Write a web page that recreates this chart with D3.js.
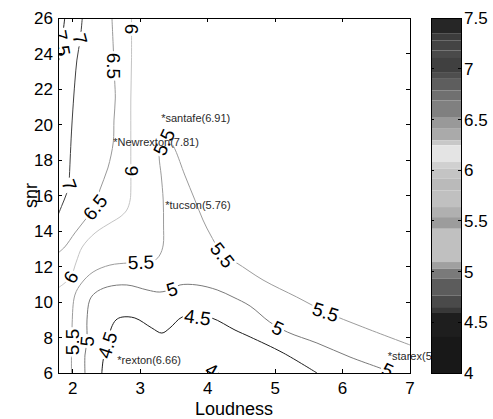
<!DOCTYPE html>
<html><head><meta charset="utf-8">
<script src="https://cdn.jsdelivr.net/npm/d3@7"></script>
<style>
body{margin:0;background:#fff}
svg{display:block}
text{font-family:"Liberation Sans",Arial,Helvetica,sans-serif}
</style>
</head><body>
<svg id="chart" width="493" height="419"></svg>
<script>
// ---------------- data ----------------
const xTicks = [2, 3, 4, 5, 6, 7];
const yTicks = [6, 8, 10, 12, 14, 16, 18, 20, 22, 24, 26];
const xLabel = "Loudness";
const yLabel = "snr";

// contour lines: [loudness, snr]
const contour75 = [[1.88,26],[1.85,25.04],[1.82,24.20],[1.80,23.75],[1.78,23.52]];
const contour7 = [[2.14,26],[2.11,24.82],[2.06,23.63],[2.03,22.39],[2.00,20.82],[1.98,19.58],[1.96,18.00],[1.95,17.15],[1.94,16.54],[1.90,16.03],[1.84,15.46],[1.78,14.90]];
const contour65 = [[2.58,26],[2.60,24.31],[2.62,22.51],[2.63,21.49],[2.61,20.25],[2.60,19.01],[2.52,17.55],[2.40,16.31],[2.33,15.35],[2.18,14.62],[2.03,13.89],[1.88,13.10],[1.78,12.76]];
const contour6 = [[2.87,26],[2.87,23.63],[2.86,21.38],[2.86,19.13],[2.86,17.38],[2.86,16.31],[2.85,15.75],[2.80,15.18],[2.70,14.79],[2.58,14.51],[2.33,13.89],[2.14,13.10],[2.05,12.25],[1.97,11.41],[1.87,11.04],[1.78,10.79]];
const contour55 = [[1.98,6.00],[1.98,7.01],[1.99,7.75],[1.99,8.82],[2.03,10.39],[2.13,11.07],[2.30,11.69],[2.55,12.08],[2.82,12.20],[3.01,12.25],[3.22,12.37],[3.29,12.65],[3.34,13.21],[3.345,14.34],[3.34,15.75],[3.31,17.15],[3.28,18.17],[3.29,18.73],[3.38,19.24],[3.47,18.90],[3.52,18.56],[3.66,17.15],[3.81,15.75],[3.93,14.62],[4.05,13.72],[4.24,12.59],[4.43,12.20],[4.82,11.24],[5.32,10.28],[5.75,9.44],[6.30,8.59],[7.00,7.58]];
const contour5 = [[2.18,6.00],[2.18,7.01],[2.21,7.80],[2.21,8.99],[2.25,10.11],[2.33,10.51],[2.51,10.85],[2.80,10.96],[3.10,10.68],[3.29,10.56],[3.47,10.73],[3.59,10.96],[3.84,10.96],[4.14,10.68],[4.375,10.28],[4.63,9.77],[4.92,8.87],[5.18,8.31],[5.62,7.69],[6.11,6.90],[6.555,6.28],[6.75,6.00]];
const contour45 = [[2.43,6.00],[2.45,6.73],[2.51,7.58],[2.57,8.54],[2.64,8.99],[2.73,9.15],[2.92,9.10],[3.17,8.54],[3.32,8.25],[3.44,8.54],[3.62,9.15],[3.84,9.21],[4.06,9.10],[4.405,8.42],[4.63,8.03],[5.12,7.13],[5.62,6.00]];
const contour4 = [[3.95,6.00],[4.02,6.23],[4.10,6.23],[4.16,6.00]];
const contourLevels = [7.5, 7, 6.5, 6, 5.5, 5, 4.5, 4];

// inline contour labels
const labelLevel   = [7.5, 7, 7, 6.5, 6.5, 6, 6, 6, 5.5, 5.5, 5.5, 5.5, 5.5, 5, 5, 5, 5, 4.5, 4.5, 4];
const labelLoudness= [1.84, 2.11, 1.95, 2.61, 2.33, 2.87, 2.86, 1.97, 1.99, 3.01, 3.35, 4.22, 5.75, 2.21, 3.47, 5.04, 6.67, 2.51, 3.85, 4.06];
const labelSnr     = [24.59, 24.82, 16.6, 23.30, 15.35, 25.38, 17.38, 11.41, 7.75, 12.25, 19.01, 12.65, 9.44, 7.80, 10.73, 8.54, 6.17, 7.58, 9.15, 6.17];

// site annotations
const siteNames    = ["santafe", "Newrexton", "tucson", "rexton", "starex"];
const siteScores   = ["6.91", "7.81", "5.76", "6.66", "5.28"];
const siteLoudness = [3.31, 2.60, 3.37, 2.66, 6.67];
const siteSnr      = [20.37, 19.01, 15.46, 6.73, 6.96];

// colorbar (colormap bands, lower bound of each band from the top)
const cbTop = 7.5;
const cbBottom = 4;
const cbBandLower  = [7.345, 7.28, 7.18, 7.115, 6.967, 6.90, 6.787, 6.688, 6.524, 6.408, 6.294, 6.245, 6.08, 6.014, 5.915, 5.80, 5.636, 5.537, 5.422, 5.094, 5.028, 4.929, 4.765, 4.65, 4.60, 4.355, 4.0];
const cbBandColors = ["#262626","#3c3c3c","#444444","#4a4a4a","#404040","#4e4e4e","#5e5e5e","#707070","#808080","#999999","#aaaaaa","#c8c8c8","#e4e4e4","#d0d0d0","#c4c4c4","#bababa","#c0c0c0","#b0b0b0","#9c9c9c","#c0c0c0","#a0a0a0","#7a7a7a","#5c5c5c","#4a4a4a","#383838","#1e1e1e","#181818"];
const cbTickValues = [4, 4.5, 5, 5.5, 6, 6.5, 7, 7.5];
const cbTickLabels = ["4", "4.5", "5", "5.5", "6", "6.5", "7", "7.5"];

// ---------------- drawing ----------------
const contourData = [contour75, contour7, contour65, contour6, contour55, contour5, contour45, contour4];
const svg = d3.select("#chart");
const L = 58, R = 410, T = 18, B = 373;
const x = d3.scaleLinear().domain([1.78, 7]).range([L, R]);
const y = d3.scaleLinear().domain([6, 26]).range([B, T]);
const cb = d3.scaleLinear().domain([cbBottom, cbTop]).range([B, T]);
const cbL = 431, cbR = 461;

function levelColor(v) {
  for (let i = 0; i < cbBandLower.length; i++) if (v >= cbBandLower[i]) return cbBandColors[i];
  return cbBandColors[cbBandColors.length - 1];
}

svg.append("rect").attr("width", 493).attr("height", 419).attr("fill", "#fff");
svg.append("defs").append("clipPath").attr("id", "plotclip")
  .append("rect").attr("x", L).attr("y", T).attr("width", R - L).attr("height", B - T);

const plot = svg.append("g").attr("clip-path", "url(#plotclip)");
const line = d3.line().x(d => x(d[0])).y(d => y(d[1])).curve(d3.curveCatmullRom.alpha(0.5));

plot.selectAll("path.contour").data(contourData).join("path")
  .attr("class", "contour")
  .attr("d", line)
  .attr("fill", "none")
  .attr("stroke", (d, i) => levelColor(contourLevels[i]))
  .attr("stroke-width", 1);

const labelRotation = [80, 75, 70, 90, -52, 90, -90, -60, -90, -2, -65, 52, 18, -85, -18, 25, 25, -72, 8, 30];
const labels = labelLevel.map((lv, i) => ({lv, lx: labelLoudness[i], ly: labelSnr[i], rot: labelRotation[i]}));
const lg = plot.selectAll("g.clabel").data(labels).join("g")
  .attr("class", "clabel")
  .attr("transform", d => `translate(${x(d.lx)},${y(d.ly)}) rotate(${d.rot})`);
lg.append("rect").attr("fill", "#fff");
const lt = lg.append("text")
  .attr("text-anchor", "middle")
  .attr("dy", "0.36em")
  .attr("font-size", 19)
  .attr("fill", "#000")
  .text(d => String(d.lv));
lt.each(function() {
  const bb = this.getBBox();
  d3.select(this.parentNode).select("rect")
    .attr("x", bb.x - 1.5).attr("y", bb.y + 2.5).attr("width", bb.width + 3).attr("height", bb.height - 4);
});

// site annotations
svg.selectAll("text.site").data(siteNames).join("text")
  .attr("class", "site")
  .attr("x", (d, i) => x(siteLoudness[i]))
  .attr("y", (d, i) => y(siteSnr[i]))
  .attr("dy", "0.35em")
  .attr("font-size", 11)
  .attr("fill", "#2a2a2a")
  .text((d, i) => `*${d}(${siteScores[i]})`);

// axes box & ticks
const ax = svg.append("g").attr("stroke", "#000").attr("stroke-width", 1).attr("shape-rendering", "crispEdges");
ax.append("rect").attr("x", L).attr("y", T).attr("width", R - L).attr("height", B - T).attr("fill", "none");
xTicks.forEach(t => {
  ax.append("line").attr("x1", x(t)).attr("x2", x(t)).attr("y1", B).attr("y2", B - 4);
  ax.append("line").attr("x1", x(t)).attr("x2", x(t)).attr("y1", T).attr("y2", T + 4);
});
yTicks.forEach(t => {
  ax.append("line").attr("x1", L).attr("x2", L + 4).attr("y1", y(t)).attr("y2", y(t));
  ax.append("line").attr("x1", R).attr("x2", R - 4).attr("y1", y(t)).attr("y2", y(t));
});
svg.selectAll("text.xt").data(xTicks).join("text")
  .attr("class", "xt").attr("x", d => x(d)).attr("y", 394)
  .attr("text-anchor", "middle").attr("font-size", 17).text(d => d);
svg.selectAll("text.yt").data(yTicks).join("text")
  .attr("class", "yt").attr("x", L - 5).attr("y", d => y(d)).attr("dy", "0.36em")
  .attr("text-anchor", "end").attr("font-size", 17).text(d => d);
svg.append("text").attr("x", (L + R) / 2).attr("y", 415).attr("text-anchor", "middle")
  .attr("font-size", 18).text(xLabel);
svg.append("text").attr("transform", `translate(37,${(T + B) / 2}) rotate(-90)`)
  .attr("text-anchor", "middle").attr("font-size", 18).text(yLabel);

// colorbar
const cbg = svg.append("g");
cbg.selectAll("rect.band").data(cbBandLower).join("rect")
  .attr("class", "band")
  .attr("x", cbL).attr("width", cbR - cbL)
  .attr("y", (d, i) => cb(i === 0 ? cbTop : cbBandLower[i - 1]))
  .attr("height", (d, i) => cb(d) - cb(i === 0 ? cbTop : cbBandLower[i - 1]))
  .attr("fill", (d, i) => cbBandColors[i]);
cbg.append("rect").attr("x", cbL).attr("y", cb(cbTop)).attr("width", cbR - cbL)
  .attr("height", cb(cbBottom) - cb(cbTop)).attr("fill", "none").attr("stroke", "#000")
  .attr("shape-rendering", "crispEdges");
cbTickValues.forEach(t => {
  cbg.append("line").attr("x1", cbL).attr("x2", cbL + 3).attr("y1", cb(t)).attr("y2", cb(t))
    .attr("stroke", "#000").attr("shape-rendering", "crispEdges");
  cbg.append("line").attr("x1", cbR).attr("x2", cbR - 3).attr("y1", cb(t)).attr("y2", cb(t))
    .attr("stroke", "#000").attr("shape-rendering", "crispEdges");
});
cbg.selectAll("text.cbt").data(cbTickValues).join("text")
  .attr("class", "cbt").attr("x", cbR + 3).attr("y", d => cb(d)).attr("dy", "0.36em")
  .attr("font-size", 17).text((d, i) => cbTickLabels[i]);
</script>
</body></html>
